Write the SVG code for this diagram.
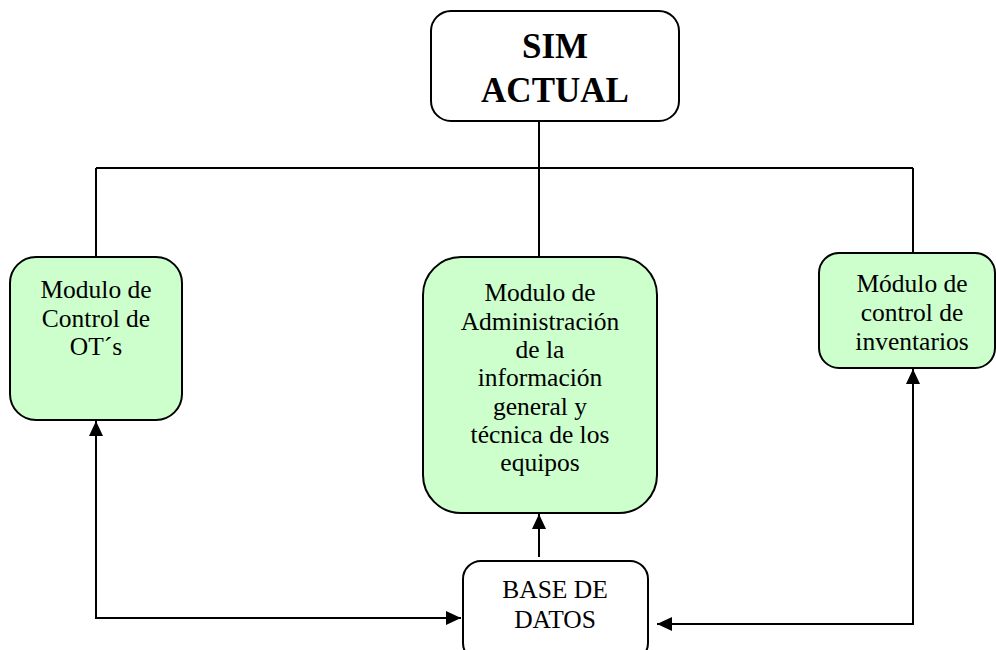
<svg xmlns="http://www.w3.org/2000/svg" width="996" height="650" viewBox="0 0 996 650">
  <style>
    .box { stroke: #000; stroke-width: 2; }
    .plain { fill: #fff; }
    .green { fill: #ccffcc; }
    .lbl { font-family: "Liberation Serif", "Times New Roman", serif; font-size: 25.5px; fill: #000; text-anchor: middle; }
    .title { font-family: "Liberation Serif", "Times New Roman", serif; font-size: 35px; font-weight: bold; fill: #000; text-anchor: middle; }
    .wire { fill: none; stroke: #000; stroke-width: 2; }
  </style>
  <defs>
    <marker id="arrow" markerUnits="userSpaceOnUse" markerWidth="16" markerHeight="16" refX="15" refY="8" orient="auto-start-reverse">
      <path d="M0,1 L15,8 L0,15 Z" fill="#000"/>
    </marker>
  </defs>

  <rect width="996" height="650" fill="#fff"/>

  <!-- connectors -->
  <g id="connectors">
    <path class="wire" d="M539 121 V168"/>
    <path class="wire" d="M96 168 H913"/>
    <path class="wire" d="M96 168 V257"/>
    <path class="wire" d="M539 168 V257"/>
    <path class="wire" d="M913 168 V253"/>
    <path class="wire" d="M96 421 V618 H461" marker-start="url(#arrow)" marker-end="url(#arrow)"/>
    <path class="wire" d="M913 369 V624 H657" marker-start="url(#arrow)" marker-end="url(#arrow)"/>
    <path class="wire" d="M539 557 V514" marker-end="url(#arrow)"/>
  </g>

  <!-- top node -->
  <g id="sim-actual">
    <rect class="box plain" x="431" y="11" width="248" height="110" rx="20"/>
    <text class="title" x="555" y="58">SIM</text>
    <text class="title" x="555" y="102">ACTUAL</text>
  </g>

  <g id="modulo-ots">
    <rect class="box green" x="10" y="257" width="172" height="163" rx="26"/>
    <text class="lbl" x="96" y="298">Modulo de</text>
    <text class="lbl" x="96" y="327">Control de</text>
    <text class="lbl" x="96" y="355">OT´s</text>
  </g>

  <g id="modulo-administracion">
    <rect class="box green" x="423" y="257" width="234" height="256" rx="38"/>
    <text class="lbl" x="540" y="301">Modulo de</text>
    <text class="lbl" x="540" y="330">Administración</text>
    <text class="lbl" x="540" y="358">de la</text>
    <text class="lbl" x="540" y="386">información</text>
    <text class="lbl" x="540" y="415">general y</text>
    <text class="lbl" x="540" y="443">técnica de los</text>
    <text class="lbl" x="540" y="471">equipos</text>
  </g>

  <g id="modulo-inventarios">
    <rect class="box green" x="819" y="253" width="176" height="115" rx="20"/>
    <text class="lbl" x="912" y="292">Módulo de</text>
    <text class="lbl" x="912" y="321">control de</text>
    <text class="lbl" x="912" y="350">inventarios</text>
  </g>

  <g id="base-de-datos">
    <rect class="box plain" x="463" y="561" width="185" height="100" rx="18"/>
    <text class="lbl" x="555" y="598">BASE DE</text>
    <text class="lbl" x="555" y="628">DATOS</text>
  </g>
</svg>
